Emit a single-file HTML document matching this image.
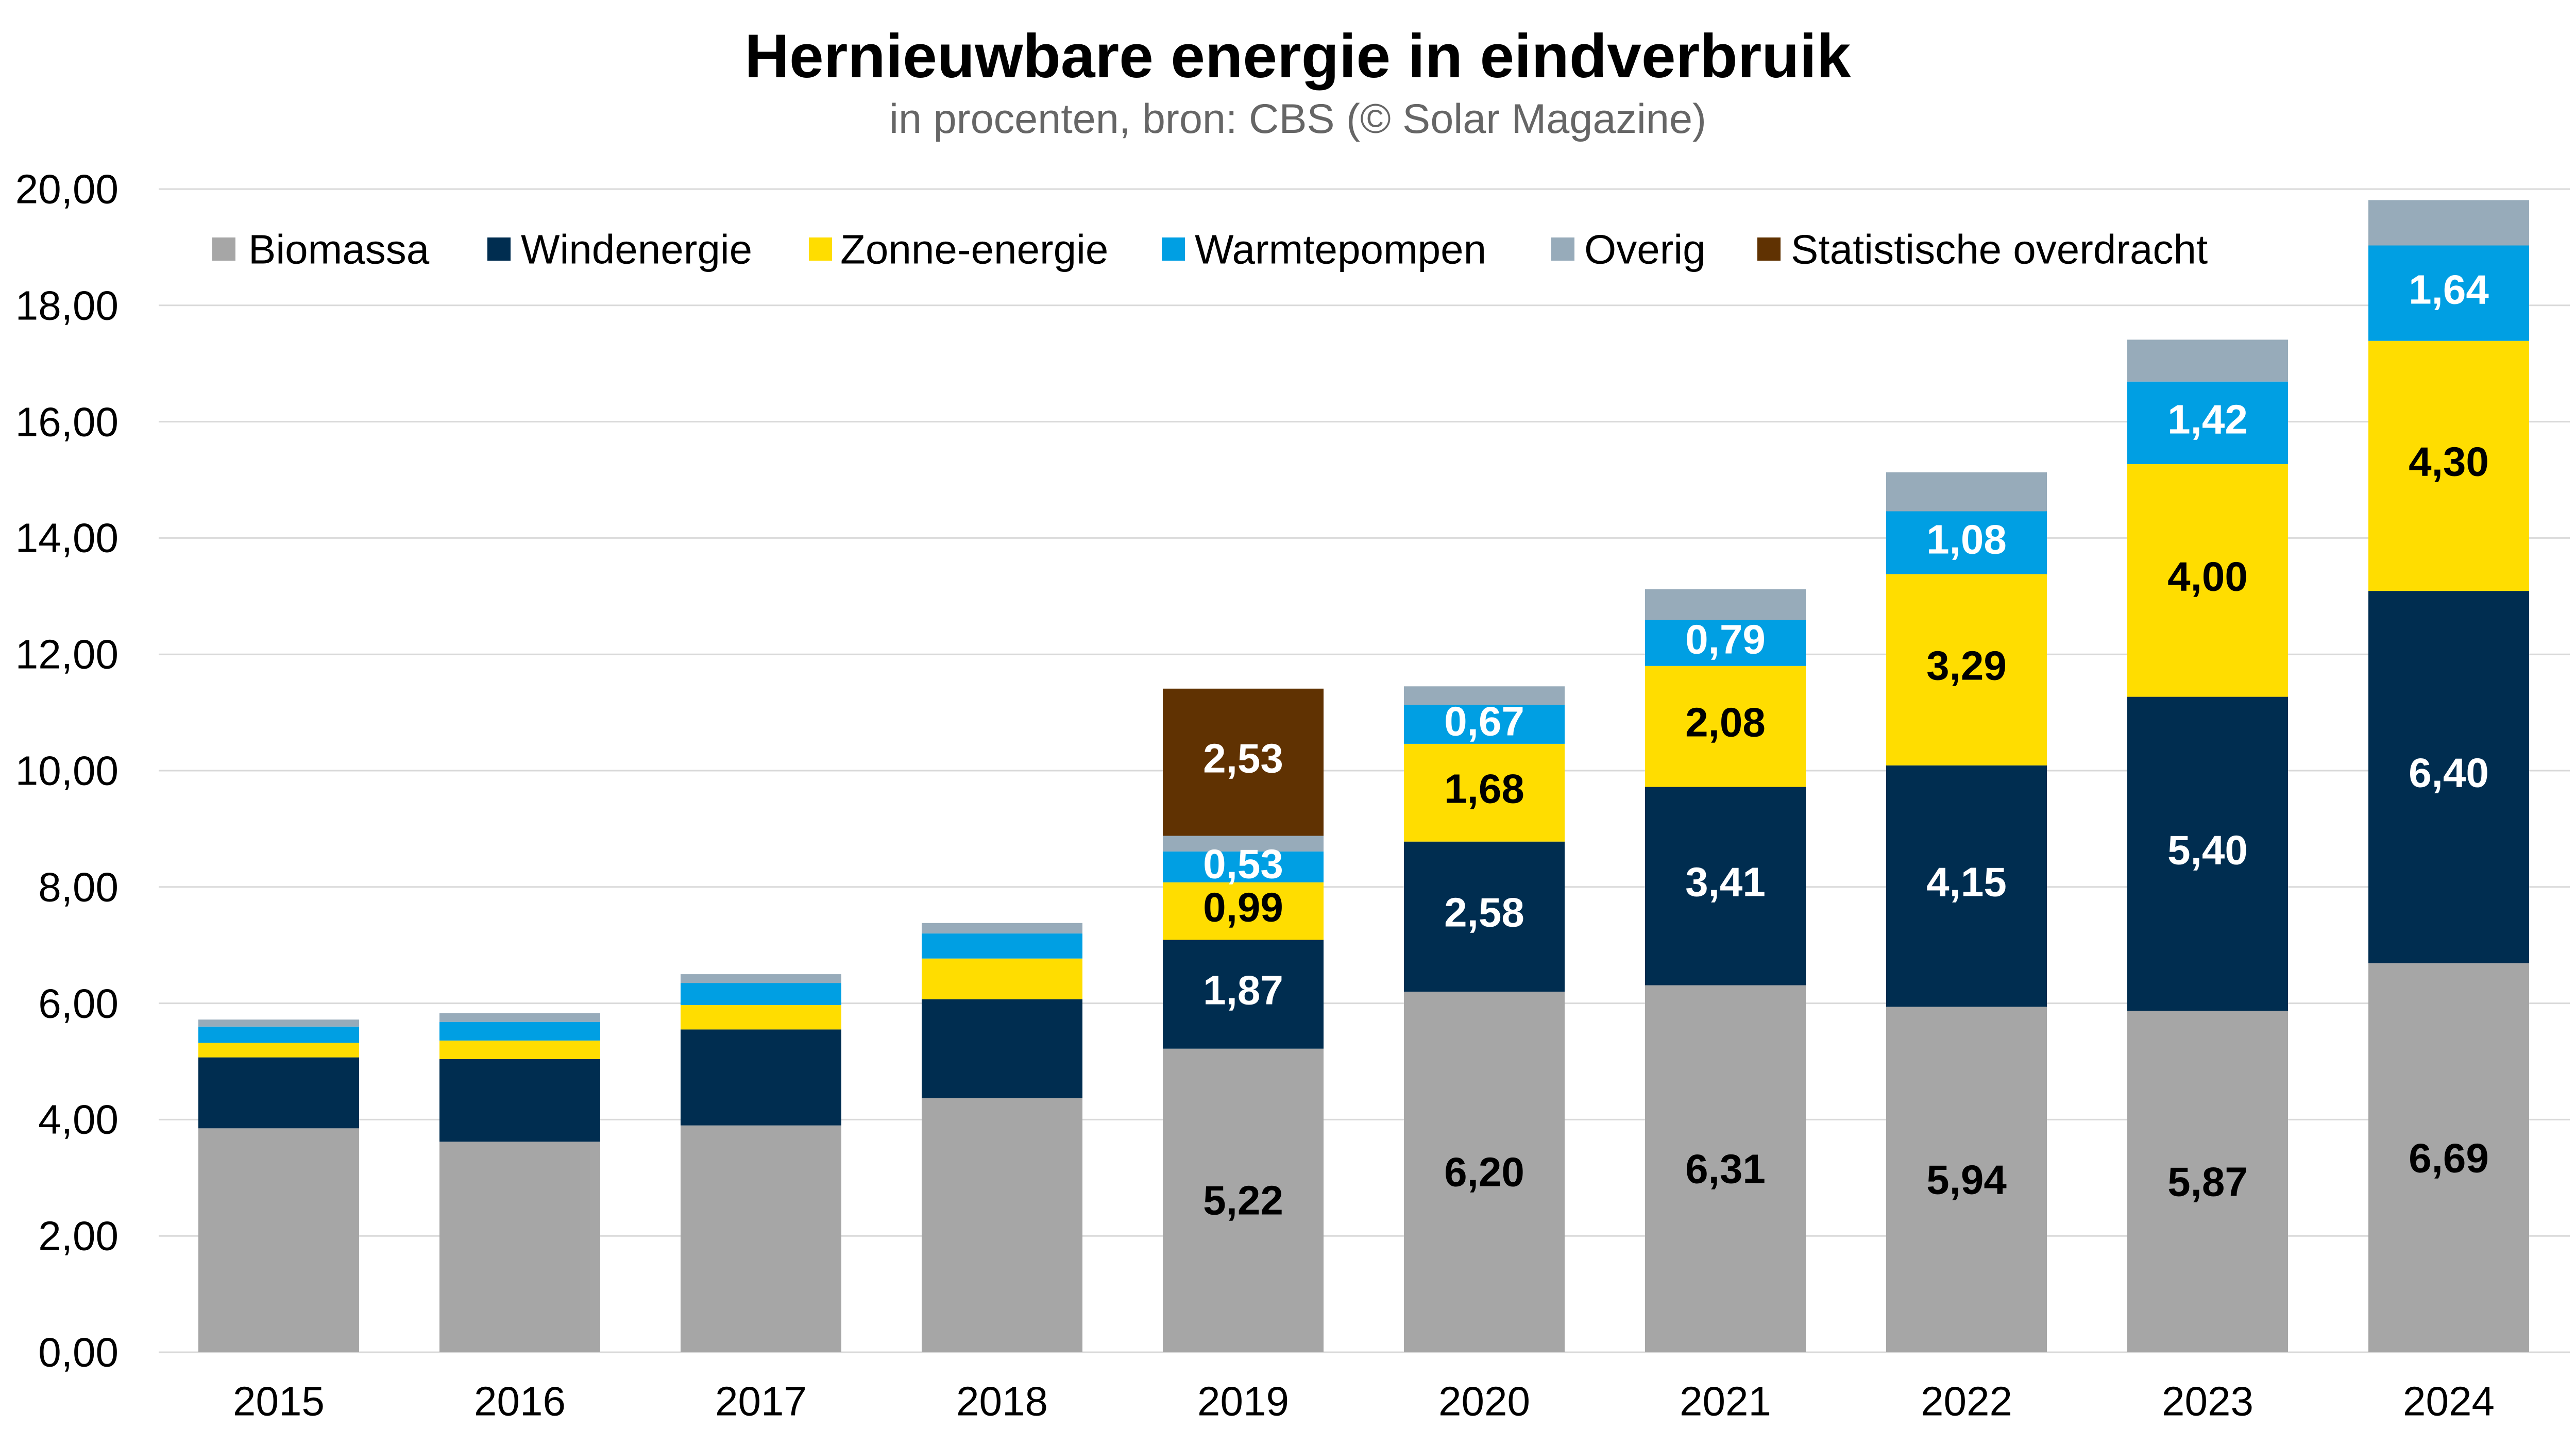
<!DOCTYPE html>
<html><head><meta charset="utf-8"><style>
html,body{margin:0;padding:0;background:#fff;}
svg{display:block;font-family:"Liberation Sans",sans-serif;}
</style></head><body>
<svg width="5039" height="2807" viewBox="0 0 5039 2807" xmlns="http://www.w3.org/2000/svg">
<rect width="5039" height="2807" fill="#fff"/>
<text x="2519" y="150" text-anchor="middle" font-size="120" font-weight="bold" fill="#000">Hernieuwbare energie in eindverbruik</text>
<text x="2519" y="258" text-anchor="middle" font-size="81" fill="#666">in procenten, bron: CBS (© Solar Magazine)</text>
<g stroke="#d9d9d9" stroke-width="3">
<line x1="308" x2="4988" y1="2625" y2="2625"/><line x1="308" x2="4988" y1="2399.2" y2="2399.2"/>
<line x1="308" x2="4988" y1="2173.4" y2="2173.4"/><line x1="308" x2="4988" y1="1947.6" y2="1947.6"/>
<line x1="308" x2="4988" y1="1721.8" y2="1721.8"/><line x1="308" x2="4988" y1="1496" y2="1496"/>
<line x1="308" x2="4988" y1="1270.2" y2="1270.2"/><line x1="308" x2="4988" y1="1044.4" y2="1044.4"/>
<line x1="308" x2="4988" y1="818.6" y2="818.6"/><line x1="308" x2="4988" y1="592.8" y2="592.8"/>
<line x1="308" x2="4988" y1="367" y2="367"/>
</g>
<g font-size="80" fill="#000" text-anchor="end" dominant-baseline="central">
<text x="230" y="2625">0,00</text><text x="230" y="2399">2,00</text><text x="230" y="2173">4,00</text>
<text x="230" y="1948">6,00</text><text x="230" y="1722">8,00</text><text x="230" y="1496">10,00</text>
<text x="230" y="1270">12,00</text><text x="230" y="1044">14,00</text><text x="230" y="819">16,00</text>
<text x="230" y="593">18,00</text><text x="230" y="367">20,00</text>
</g>
<g font-size="80" fill="#000" text-anchor="middle" dominant-baseline="central">
<text x="541" y="2720">2015</text><text x="1009" y="2720">2016</text><text x="1477" y="2720">2017</text>
<text x="1945" y="2720">2018</text><text x="2413" y="2720">2019</text><text x="2881" y="2720">2020</text>
<text x="3349" y="2720">2021</text><text x="3817" y="2720">2022</text><text x="4285" y="2720">2023</text>
<text x="4753" y="2720">2024</text>
</g>
<g>
<rect x="385" y="2190.3" width="312" height="434.7" fill="#a6a6a6"/>
<rect x="385" y="2052.6" width="312" height="137.7" fill="#002d50"/>
<rect x="385" y="2024.4" width="312" height="28.2" fill="#ffdd00"/>
<rect x="385" y="1992.8" width="312" height="31.6" fill="#009fe3"/>
<rect x="385" y="1979.2" width="312" height="13.6" fill="#97abba"/>
<rect x="853" y="2216.3" width="312" height="408.7" fill="#a6a6a6"/>
<rect x="853" y="2056.0" width="312" height="160.3" fill="#002d50"/>
<rect x="853" y="2019.9" width="312" height="36.1" fill="#ffdd00"/>
<rect x="853" y="1983.7" width="312" height="36.2" fill="#009fe3"/>
<rect x="853" y="1966.8" width="312" height="16.9" fill="#97abba"/>
<rect x="1321" y="2184.7" width="312" height="440.3" fill="#a6a6a6"/>
<rect x="1321" y="1998.4" width="312" height="186.3" fill="#002d50"/>
<rect x="1321" y="1951.0" width="312" height="47.4" fill="#ffdd00"/>
<rect x="1321" y="1908.1" width="312" height="42.9" fill="#009fe3"/>
<rect x="1321" y="1891.1" width="312" height="17.0" fill="#97abba"/>
<rect x="1789" y="2131.6" width="312" height="493.4" fill="#a6a6a6"/>
<rect x="1789" y="1939.7" width="312" height="191.9" fill="#002d50"/>
<rect x="1789" y="1860.7" width="312" height="79.0" fill="#ffdd00"/>
<rect x="1789" y="1812.1" width="312" height="48.6" fill="#009fe3"/>
<rect x="1789" y="1791.8" width="312" height="20.3" fill="#97abba"/>
<rect x="2257" y="2035.7" width="312" height="589.3" fill="#a6a6a6"/>
<rect x="2257" y="1824.5" width="312" height="211.2" fill="#002d50"/>
<rect x="2257" y="1712.8" width="312" height="111.7" fill="#ffdd00"/>
<rect x="2257" y="1652.9" width="312" height="59.9" fill="#009fe3"/>
<rect x="2257" y="1622.5" width="312" height="30.4" fill="#97abba"/>
<rect x="2257" y="1336.8" width="312" height="285.7" fill="#603202"/>
<rect x="2725" y="1925.0" width="312" height="700" fill="#a6a6a6"/>
<rect x="2725" y="1633.7" width="312" height="291.3" fill="#002d50"/>
<rect x="2725" y="1443.9" width="312" height="189.8" fill="#ffdd00"/>
<rect x="2725" y="1368.4" width="312" height="75.5" fill="#009fe3"/>
<rect x="2725" y="1332.3" width="312" height="36.1" fill="#97abba"/>
<rect x="3193" y="1912.6" width="312" height="712.4" fill="#a6a6a6"/>
<rect x="3193" y="1527.6" width="312" height="385.0" fill="#002d50"/>
<rect x="3193" y="1292.8" width="312" height="234.8" fill="#ffdd00"/>
<rect x="3193" y="1203.6" width="312" height="89.2" fill="#009fe3"/>
<rect x="3193" y="1143.8" width="312" height="59.8" fill="#97abba"/>
<rect x="3661" y="1954.4" width="312" height="670.6" fill="#a6a6a6"/>
<rect x="3661" y="1485.8" width="312" height="468.6" fill="#002d50"/>
<rect x="3661" y="1114.4" width="312" height="371.4" fill="#ffdd00"/>
<rect x="3661" y="992.5" width="312" height="121.9" fill="#009fe3"/>
<rect x="3661" y="916.8" width="312" height="75.7" fill="#97abba"/>
<rect x="4129" y="1962.3" width="312" height="662.7" fill="#a6a6a6"/>
<rect x="4129" y="1352.6" width="312" height="609.7" fill="#002d50"/>
<rect x="4129" y="901.0" width="312" height="451.6" fill="#ffdd00"/>
<rect x="4129" y="740.7" width="312" height="160.3" fill="#009fe3"/>
<rect x="4129" y="659.4" width="312" height="81.3" fill="#97abba"/>
<rect x="4597" y="1869.7" width="312" height="755.3" fill="#a6a6a6"/>
<rect x="4597" y="1147.1" width="312" height="722.6" fill="#002d50"/>
<rect x="4597" y="661.7" width="312" height="485.4" fill="#ffdd00"/>
<rect x="4597" y="476.5" width="312" height="185.2" fill="#009fe3"/>
<rect x="4597" y="388.4" width="312" height="88.1" fill="#97abba"/>
</g>
<g font-size="80" font-weight="bold" text-anchor="middle" dominant-baseline="central">
<text x="2413" y="2330" fill="#000">5,22</text><text x="2413" y="1922" fill="#fff">1,87</text>
<text x="2413" y="1761" fill="#000">0,99</text><text x="2413" y="1677" fill="#fff">0,53</text>
<text x="2413" y="1472" fill="#fff">2,53</text>
<text x="2881" y="2275" fill="#000">6,20</text><text x="2881" y="1771" fill="#fff">2,58</text>
<text x="2881" y="1531" fill="#000">1,68</text><text x="2881" y="1400" fill="#fff">0,67</text>
<text x="3349" y="2269" fill="#000">6,31</text><text x="3349" y="1712" fill="#fff">3,41</text>
<text x="3349" y="1402" fill="#000">2,08</text><text x="3349" y="1241" fill="#fff">0,79</text>
<text x="3817" y="2290" fill="#000">5,94</text><text x="3817" y="1712" fill="#fff">4,15</text>
<text x="3817" y="1292" fill="#000">3,29</text><text x="3817" y="1047" fill="#fff">1,08</text>
<text x="4285" y="2294" fill="#000">5,87</text><text x="4285" y="1650" fill="#fff">5,40</text>
<text x="4285" y="1119" fill="#000">4,00</text><text x="4285" y="814" fill="#fff">1,42</text>
<text x="4753" y="2248" fill="#000">6,69</text><text x="4753" y="1500" fill="#fff">6,40</text>
<text x="4753" y="896" fill="#000">4,30</text><text x="4753" y="562" fill="#fff">1,64</text>
</g>
<g font-size="80" fill="#000" dominant-baseline="central">
<rect x="412" y="461" width="45" height="45" fill="#a6a6a6"/><text x="482" y="484">Biomassa</text>
<rect x="946" y="461" width="45" height="45" fill="#002d50"/><text x="1011" y="484">Windenergie</text>
<rect x="1570" y="461" width="45" height="45" fill="#ffdd00"/><text x="1631" y="484">Zonne-energie</text>
<rect x="2255" y="461" width="45" height="45" fill="#009fe3"/><text x="2319" y="484">Warmtepompen</text>
<rect x="3011" y="461" width="45" height="45" fill="#97abba"/><text x="3075" y="484">Overig</text>
<rect x="3411" y="461" width="45" height="45" fill="#603202"/><text x="3476" y="484">Statistische overdracht</text>
</g>
</svg>
</body></html>
